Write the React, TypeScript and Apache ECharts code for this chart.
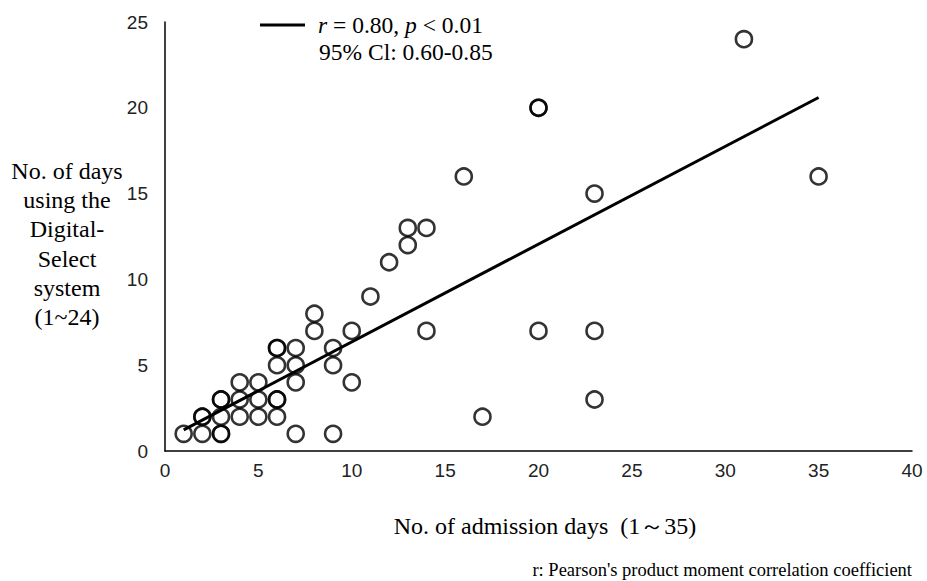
import React, { useEffect, useRef } from "react";
import * as echarts from "echarts";

const admissionDays = [1, 2, 2, 2, 3, 3, 3, 3, 3, 4, 4, 4, 5, 5, 5, 6, 6, 6, 6, 6, 6, 7, 7, 7, 7, 8, 8, 9, 9, 9, 10, 10, 11, 12, 13, 13, 14, 14, 16, 17, 20, 20, 20, 23, 23, 23, 31, 35];
const systemDays = [1, 1, 2, 2, 1, 1, 2, 3, 3, 2, 3, 4, 2, 3, 4, 2, 3, 3, 5, 6, 6, 1, 4, 5, 6, 7, 8, 1, 5, 6, 4, 7, 9, 11, 12, 13, 13, 7, 16, 2, 20, 20, 7, 15, 7, 3, 24, 16];
const fitX = [1, 35];
const fitY = [1.23, 20.6];
const xTicks = [0, 5, 10, 15, 20, 25, 30, 35, 40];
const yTicks = [0, 5, 10, 15, 20, 25];
const yTitleLines = ["No. of days", "using the", "Digital-", "Select", "system", "(1~24)"];

export default function App() {
  const ref = useRef<HTMLDivElement>(null);
  useEffect(() => {
    if (!ref.current) return;
    const chart = echarts.init(ref.current, null, { renderer: "svg" });
    const serif = "'Liberation Serif', 'Times New Roman', serif";
    const tickFont = "'Liberation Sans', sans-serif";
    chart.setOption({
      animation: false,
      backgroundColor: "#ffffff",
      grid: { left: 165, right: 15, top: 22, bottom: 130, containLabel: false },
      xAxis: {
        type: "value",
        min: xTicks[0],
        max: xTicks[xTicks.length - 1],
        interval: 5,
        axisLine: { show: true, lineStyle: { color: "#000", width: 1.5 } },
        axisTick: { show: false },
        splitLine: { show: false },
        axisLabel: { color: "#222", fontSize: 19, fontFamily: tickFont, margin: 10 },
      },
      yAxis: {
        type: "value",
        min: yTicks[0],
        max: yTicks[yTicks.length - 1],
        interval: 5,
        axisLine: { show: true, lineStyle: { color: "#000", width: 1.5 } },
        axisTick: { show: false },
        splitLine: { show: false },
        axisLabel: { color: "#222", fontSize: 19, fontFamily: tickFont, margin: 17 },
      },
      series: [
        {
          type: "line",
          data: fitX.map((x, i) => [x, fitY[i]]),
          showSymbol: false,
          lineStyle: { color: "#000", width: 3 },
          z: 3,
        },
        {
          type: "scatter",
          data: admissionDays.map((x, i) => [x, systemDays[i]]),
          symbol: "circle",
          symbolSize: 16,
          itemStyle: { color: "rgba(255,255,255,0)", borderColor: "#000", borderWidth: 2.6 },
          z: 4,
        },
      ],
      graphic: [
        { type: "line", shape: { x1: 260, y1: 25, x2: 305, y2: 25 }, style: { stroke: "#000", lineWidth: 3 } },
        {
          type: "text",
          x: 318,
          y: 25,
          style: {
            text: "{i|r} = 0.80, {i|p} < 0.01",
            rich: { i: { fontStyle: "italic", fontFamily: serif, fontSize: 23.5, fill: "#000" } },
            font: `23.5px ${serif}`,
            fill: "#000",
            verticalAlign: "middle",
          },
        },
        {
          type: "text",
          x: 319,
          y: 52,
          style: { text: "95% Cl: 0.60-0.85", font: `23.5px ${serif}`, fill: "#000", verticalAlign: "middle" },
        },
        ...yTitleLines.map((t, i) => ({
          type: "text",
          x: 67,
          y: 171 + i * 29.2,
          style: { text: t, font: `24px ${serif}`, fill: "#000", align: "center", verticalAlign: "middle" },
        })),
        {
          type: "text",
          x: 545,
          y: 526,
          style: { text: "No. of admission days  (1～35)", font: `24px ${serif}`, fill: "#000", align: "center", verticalAlign: "middle" },
        },
        {
          type: "text",
          x: 912,
          y: 570,
          style: { text: "r: Pearson's product moment correlation coefficient", font: `18.5px ${serif}`, fill: "#000", align: "right", verticalAlign: "middle" },
        },
      ],
    });
    return () => chart.dispose();
  }, []);
  return <div ref={ref} style={{ width: 927, height: 581, position: "absolute", left: 0, top: 0 }} />;
}
